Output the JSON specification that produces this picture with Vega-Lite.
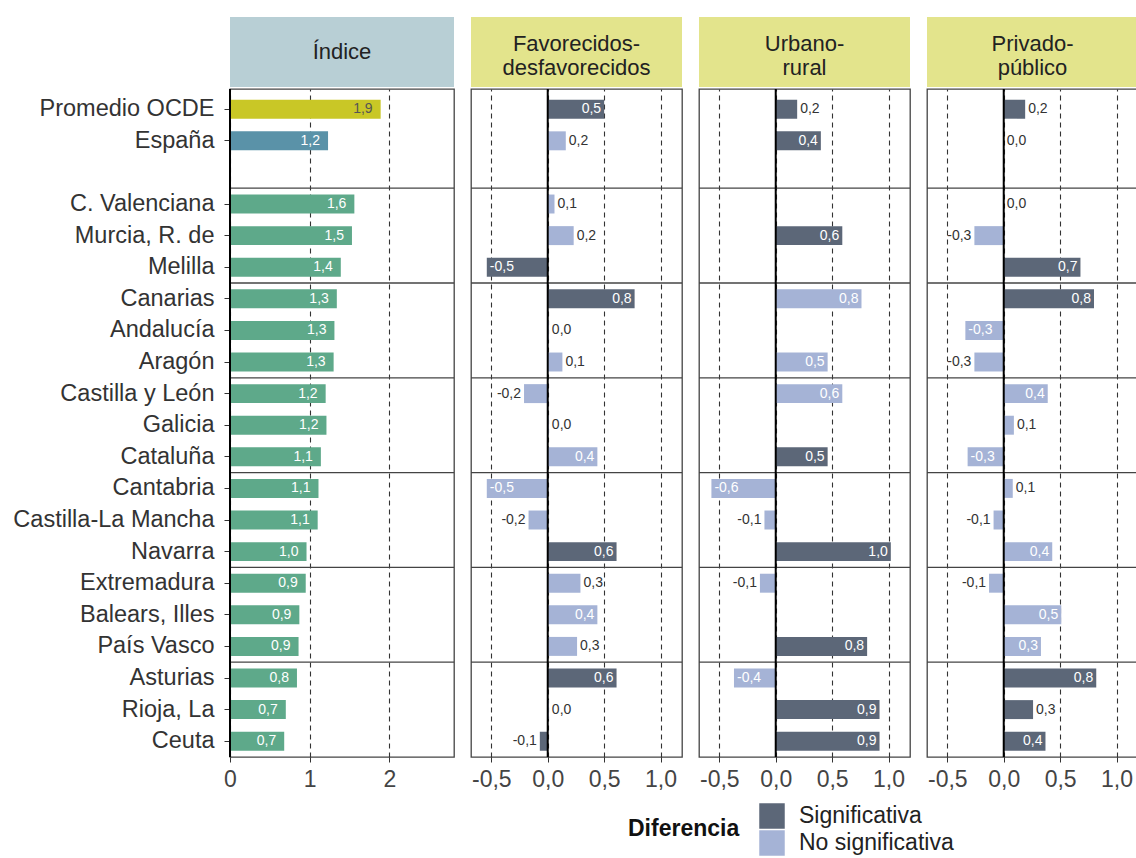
{
  "$schema": "https://vega.github.io/schema/vega-lite/v6.json",
  "padding": {"left": 12, "top": 17, "right": 0, "bottom": 0},
  "spacing": 13,
  "config": {
    "font": "Liberation Sans",
    "locale": {"number": {"decimal": ",", "thousands": ".", "grouping": [3], "currency": ["", " €"], "minus": "-"}},
    "view": {"stroke": "#444", "strokeWidth": 1.3},
    "axis": {"domain": false, "tickColor": "#333", "tickSize": 5, "labelFontSize": 23, "labelColor": "#444", "labelFlush": false, "title": null, "gridColor": "#333", "gridDash": [5, 4], "gridWidth": 1.1, "zindex": 1},
    "text": {"font": "Liberation Sans"}
  },
  "datasets": {
    "idx": [
      {"region": "Promedio OCDE", "grupo": "ocde", "value": 1.89},
      {"region": "España", "grupo": "esp", "value": 1.23},
      {"region": "C. Valenciana", "grupo": "ccaa", "value": 1.56},
      {"region": "Murcia, R. de", "grupo": "ccaa", "value": 1.53},
      {"region": "Melilla", "grupo": "ccaa", "value": 1.39},
      {"region": "Canarias", "grupo": "ccaa", "value": 1.34},
      {"region": "Andalucía", "grupo": "ccaa", "value": 1.31},
      {"region": "Aragón", "grupo": "ccaa", "value": 1.3},
      {"region": "Castilla y León", "grupo": "ccaa", "value": 1.2},
      {"region": "Galicia", "grupo": "ccaa", "value": 1.21},
      {"region": "Cataluña", "grupo": "ccaa", "value": 1.14},
      {"region": "Cantabria", "grupo": "ccaa", "value": 1.11},
      {"region": "Castilla-La Mancha", "grupo": "ccaa", "value": 1.1},
      {"region": "Navarra", "grupo": "ccaa", "value": 0.96},
      {"region": "Extremadura", "grupo": "ccaa", "value": 0.95},
      {"region": "Balears, Illes", "grupo": "ccaa", "value": 0.87},
      {"region": "País Vasco", "grupo": "ccaa", "value": 0.86},
      {"region": "Asturias", "grupo": "ccaa", "value": 0.84},
      {"region": "Rioja, La", "grupo": "ccaa", "value": 0.7},
      {"region": "Ceuta", "grupo": "ccaa", "value": 0.68}
    ],
    "dif": [
      {"panel": "fav", "region": "Promedio OCDE", "value": 0.5, "sig": "Significativa"},
      {"panel": "fav", "region": "España", "value": 0.16, "sig": "No significativa"},
      {"panel": "fav", "region": "C. Valenciana", "value": 0.06, "sig": "No significativa"},
      {"panel": "fav", "region": "Murcia, R. de", "value": 0.23, "sig": "No significativa"},
      {"panel": "fav", "region": "Melilla", "value": -0.54, "sig": "Significativa"},
      {"panel": "fav", "region": "Canarias", "value": 0.77, "sig": "Significativa"},
      {"panel": "fav", "region": "Andalucía", "value": 0.01, "sig": "No significativa"},
      {"panel": "fav", "region": "Aragón", "value": 0.13, "sig": "No significativa"},
      {"panel": "fav", "region": "Castilla y León", "value": -0.21, "sig": "No significativa"},
      {"panel": "fav", "region": "Galicia", "value": 0.01, "sig": "No significativa"},
      {"panel": "fav", "region": "Cataluña", "value": 0.44, "sig": "No significativa"},
      {"panel": "fav", "region": "Cantabria", "value": -0.54, "sig": "No significativa"},
      {"panel": "fav", "region": "Castilla-La Mancha", "value": -0.17, "sig": "No significativa"},
      {"panel": "fav", "region": "Navarra", "value": 0.61, "sig": "Significativa"},
      {"panel": "fav", "region": "Extremadura", "value": 0.29, "sig": "No significativa"},
      {"panel": "fav", "region": "Balears, Illes", "value": 0.44, "sig": "No significativa"},
      {"panel": "fav", "region": "País Vasco", "value": 0.26, "sig": "No significativa"},
      {"panel": "fav", "region": "Asturias", "value": 0.61, "sig": "Significativa"},
      {"panel": "fav", "region": "Rioja, La", "value": 0.01, "sig": "No significativa"},
      {"panel": "fav", "region": "Ceuta", "value": -0.07, "sig": "Significativa"},
      {"panel": "urb", "region": "Promedio OCDE", "value": 0.19, "sig": "Significativa"},
      {"panel": "urb", "region": "España", "value": 0.4, "sig": "Significativa"},
      {"panel": "urb", "region": "Murcia, R. de", "value": 0.59, "sig": "Significativa"},
      {"panel": "urb", "region": "Canarias", "value": 0.76, "sig": "No significativa"},
      {"panel": "urb", "region": "Aragón", "value": 0.46, "sig": "No significativa"},
      {"panel": "urb", "region": "Castilla y León", "value": 0.59, "sig": "No significativa"},
      {"panel": "urb", "region": "Cataluña", "value": 0.46, "sig": "Significativa"},
      {"panel": "urb", "region": "Cantabria", "value": -0.57, "sig": "No significativa"},
      {"panel": "urb", "region": "Castilla-La Mancha", "value": -0.1, "sig": "No significativa"},
      {"panel": "urb", "region": "Navarra", "value": 1.02, "sig": "Significativa"},
      {"panel": "urb", "region": "Extremadura", "value": -0.14, "sig": "No significativa"},
      {"panel": "urb", "region": "País Vasco", "value": 0.81, "sig": "Significativa"},
      {"panel": "urb", "region": "Asturias", "value": -0.37, "sig": "No significativa"},
      {"panel": "urb", "region": "Rioja, La", "value": 0.92, "sig": "Significativa"},
      {"panel": "urb", "region": "Ceuta", "value": 0.92, "sig": "Significativa"},
      {"panel": "priv", "region": "Promedio OCDE", "value": 0.19, "sig": "Significativa"},
      {"panel": "priv", "region": "España", "value": 0.0, "sig": "No significativa"},
      {"panel": "priv", "region": "C. Valenciana", "value": 0.0, "sig": "No significativa"},
      {"panel": "priv", "region": "Murcia, R. de", "value": -0.26, "sig": "No significativa"},
      {"panel": "priv", "region": "Melilla", "value": 0.68, "sig": "Significativa"},
      {"panel": "priv", "region": "Canarias", "value": 0.8, "sig": "Significativa"},
      {"panel": "priv", "region": "Andalucía", "value": -0.34, "sig": "No significativa"},
      {"panel": "priv", "region": "Aragón", "value": -0.26, "sig": "No significativa"},
      {"panel": "priv", "region": "Castilla y León", "value": 0.39, "sig": "No significativa"},
      {"panel": "priv", "region": "Galicia", "value": 0.09, "sig": "No significativa"},
      {"panel": "priv", "region": "Cataluña", "value": -0.32, "sig": "No significativa"},
      {"panel": "priv", "region": "Cantabria", "value": 0.08, "sig": "No significativa"},
      {"panel": "priv", "region": "Castilla-La Mancha", "value": -0.09, "sig": "No significativa"},
      {"panel": "priv", "region": "Navarra", "value": 0.43, "sig": "No significativa"},
      {"panel": "priv", "region": "Extremadura", "value": -0.13, "sig": "No significativa"},
      {"panel": "priv", "region": "Balears, Illes", "value": 0.51, "sig": "No significativa"},
      {"panel": "priv", "region": "País Vasco", "value": 0.33, "sig": "No significativa"},
      {"panel": "priv", "region": "Asturias", "value": 0.82, "sig": "Significativa"},
      {"panel": "priv", "region": "Rioja, La", "value": 0.26, "sig": "Significativa"},
      {"panel": "priv", "region": "Ceuta", "value": 0.37, "sig": "Significativa"}
    ],
    "sep": [
      {"region": "C. Valenciana"}, {"region": "Canarias"}, {"region": "Castilla y León"},
      {"region": "Cantabria"}, {"region": "Extremadura"}, {"region": "Asturias"}
    ],
    "zero": [{"x": 0}]
  },
  "hconcat": [
    {
      "bounds": "flush", "spacing": 2,
      "vconcat": [
        {
          "width": 224, "height": 70,
          "view": {"fill": "#b8cfd5", "stroke": null},
          "data": {"values": [{"titulo": "Índice"}]},
          "mark": {"type": "text", "fontSize": 22, "color": "#222", "baseline": "middle", "align": "center"},
          "encoding": {"text": {"field": "titulo", "type": "nominal"}}
        },
        {
          "width": 224, "height": 668,
          "layer": [
            {
              "data": {"name": "idx"},
              "mark": {"type": "bar", "height": {"band": 0.6}},
              "encoding": {
                "y": {"field": "region", "type": "nominal", "scale": {"domain": ["Promedio OCDE", "España", " ", "C. Valenciana", "Murcia, R. de", "Melilla", "Canarias", "Andalucía", "Aragón", "Castilla y León", "Galicia", "Cataluña", "Cantabria", "Castilla-La Mancha", "Navarra", "Extremadura", "Balears, Illes", "País Vasco", "Asturias", "Rioja, La", "Ceuta"], "paddingInner": 0, "paddingOuter": 0.07, "align": 1},
                  "axis": {"values": ["Promedio OCDE", "España", "C. Valenciana", "Murcia, R. de", "Melilla", "Canarias", "Andalucía", "Aragón", "Castilla y León", "Galicia", "Cataluña", "Cantabria", "Castilla-La Mancha", "Navarra", "Extremadura", "Balears, Illes", "País Vasco", "Asturias", "Rioja, La", "Ceuta"], "labelColor": "#333", "labelFontSize": 23.5, "labelLimit": 0, "tickSize": 6, "labelPadding": 10, "grid": false}},
                "x": {"field": "value", "type": "quantitative", "scale": {"domain": [0, 2.81], "nice": false, "zero": false}, "axis": {"values": [0, 1, 2], "format": "d", "grid": true, "labelPadding": 6, "labelFlush": false}},
                "fill": {"field": "grupo", "type": "nominal", "scale": {"domain": ["ocde", "esp", "ccaa"], "range": ["#c9c726", "#5a92a8", "#5ea98a"]}, "legend": null}
              }
            },
            {
              "data": {"name": "idx"},
              "mark": {"type": "text", "align": "right", "baseline": "middle", "dx": -8, "fontSize": 14},
              "encoding": {
                "y": {"field": "region", "type": "nominal"},
                "x": {"field": "value", "type": "quantitative"},
                "text": {"field": "value", "type": "quantitative", "format": ".1f"},
                "fill": {"condition": {"test": "datum.grupo === 'ocde'", "value": "#555"}, "value": "white"}
              }
            },
            {
              "data": {"name": "sep"},
              "mark": {"type": "rule", "color": "#444", "strokeWidth": 1.3},
              "encoding": {"y": {"field": "region", "type": "nominal", "bandPosition": 0}}
            },
            {
              "data": {"name": "zero"},
              "mark": {"type": "rule", "color": "black", "strokeWidth": 2},
              "encoding": {"x": {"field": "x", "type": "quantitative"}}
            }
          ]
        }
      ]
    },
    {
      "bounds": "flush", "spacing": 2,
      "vconcat": [
        {
          "width": 211, "height": 70,
          "view": {"fill": "#e3e48c", "stroke": null},
          "data": {"values": [{"titulo": "Favorecidos-\ndesfavorecidos"}]},
          "mark": {"type": "text", "fontSize": 22, "color": "#222", "baseline": "middle", "align": "center", "lineBreak": "\n", "lineHeight": 24, "dy": -8},
          "encoding": {"text": {"field": "titulo", "type": "nominal"}}
        },
        {
          "width": 211, "height": 668,
          "data": {"name": "dif"},
          "transform": [{"filter": "datum.panel === 'fav'"}],
          "encoding": {
            "y": {"field": "region", "type": "nominal", "scale": {"domain": ["Promedio OCDE", "España", " ", "C. Valenciana", "Murcia, R. de", "Melilla", "Canarias", "Andalucía", "Aragón", "Castilla y León", "Galicia", "Cataluña", "Cantabria", "Castilla-La Mancha", "Navarra", "Extremadura", "Balears, Illes", "País Vasco", "Asturias", "Rioja, La", "Ceuta"], "paddingInner": 0, "paddingOuter": 0.07, "align": 1}, "axis": null}
          },
          "layer": [
            {
              "mark": {"type": "bar", "height": {"band": 0.6}},
              "encoding": {
                "x": {"field": "value", "type": "quantitative", "scale": {"domain": [-0.68, 1.19], "nice": false, "zero": false}, "axis": {"values": [-0.5, 0, 0.5, 1], "format": ".1f", "grid": true, "labelPadding": 6}},
                "color": {"field": "sig", "type": "nominal", "scale": {"domain": ["Significativa", "No significativa"], "range": ["#5c6778", "#a5b3d6"]},
                  "legend": {"title": "Diferencia", "orient": "none", "legendX": 398, "legendY": 786, "direction": "vertical", "titleOrient": "left", "titleFontSize": 23, "titleFontWeight": "bold", "titleColor": "#111", "labelFontSize": 23, "labelColor": "#222", "labelLimit": 0, "symbolType": "square", "symbolSize": 650, "symbolStrokeWidth": 0, "symbolOpacity": 1, "rowPadding": 1, "labelOffset": 14, "titlePadding": 19}}
              }
            },
            {
              "transform": [{"filter": "datum.value >= 0.3"}],
              "mark": {"type": "text", "align": "right", "baseline": "middle", "dx": -3, "fontSize": 14, "color": "white"},
              "encoding": {"x": {"field": "value", "type": "quantitative"}, "text": {"field": "value", "type": "quantitative", "format": ".1f"}}
            },
            {
              "transform": [{"filter": "datum.value >= 0 && datum.value < 0.3"}],
              "mark": {"type": "text", "align": "left", "baseline": "middle", "dx": 3, "fontSize": 14, "color": "#333"},
              "encoding": {"x": {"field": "value", "type": "quantitative"}, "text": {"field": "value", "type": "quantitative", "format": ".1f"}}
            },
            {
              "transform": [{"filter": "datum.value <= -0.3"}],
              "mark": {"type": "text", "align": "left", "baseline": "middle", "dx": 3, "fontSize": 14, "color": "white"},
              "encoding": {"x": {"field": "value", "type": "quantitative"}, "text": {"field": "value", "type": "quantitative", "format": ".1f"}}
            },
            {
              "transform": [{"filter": "datum.value < 0 && datum.value > -0.3"}],
              "mark": {"type": "text", "align": "right", "baseline": "middle", "dx": -3, "fontSize": 14, "color": "#333"},
              "encoding": {"x": {"field": "value", "type": "quantitative"}, "text": {"field": "value", "type": "quantitative", "format": ".1f"}}
            },
            {
              "data": {"name": "sep"},
              "mark": {"type": "rule", "color": "#444", "strokeWidth": 1.3},
              "encoding": {"y": {"field": "region", "type": "nominal", "bandPosition": 0}}
            },
            {
              "data": {"name": "zero"},
              "mark": {"type": "rule", "color": "black", "strokeWidth": 2},
              "encoding": {"x": {"field": "x", "type": "quantitative"}, "y": null}
            }
          ]
        }
      ]
    },
    {
      "bounds": "flush", "spacing": 2,
      "vconcat": [
        {
          "width": 211, "height": 70,
          "view": {"fill": "#e3e48c", "stroke": null},
          "data": {"values": [{"titulo": "Urbano-\nrural"}]},
          "mark": {"type": "text", "fontSize": 22, "color": "#222", "baseline": "middle", "align": "center", "lineBreak": "\n", "lineHeight": 24, "dy": -8},
          "encoding": {"text": {"field": "titulo", "type": "nominal"}}
        },
        {
          "width": 211, "height": 668,
          "data": {"name": "dif"},
          "transform": [{"filter": "datum.panel === 'urb'"}],
          "encoding": {
            "y": {"field": "region", "type": "nominal", "scale": {"domain": ["Promedio OCDE", "España", " ", "C. Valenciana", "Murcia, R. de", "Melilla", "Canarias", "Andalucía", "Aragón", "Castilla y León", "Galicia", "Cataluña", "Cantabria", "Castilla-La Mancha", "Navarra", "Extremadura", "Balears, Illes", "País Vasco", "Asturias", "Rioja, La", "Ceuta"], "paddingInner": 0, "paddingOuter": 0.07, "align": 1}, "axis": null}
          },
          "layer": [
            {
              "mark": {"type": "bar", "height": {"band": 0.6}},
              "encoding": {
                "x": {"field": "value", "type": "quantitative", "scale": {"domain": [-0.68, 1.19], "nice": false, "zero": false}, "axis": {"values": [-0.5, 0, 0.5, 1], "format": ".1f", "grid": true, "labelPadding": 6}},
                "color": {"field": "sig", "type": "nominal", "scale": {"domain": ["Significativa", "No significativa"], "range": ["#5c6778", "#a5b3d6"]}}
              }
            },
            {
              "transform": [{"filter": "datum.value >= 0.3"}],
              "mark": {"type": "text", "align": "right", "baseline": "middle", "dx": -3, "fontSize": 14, "color": "white"},
              "encoding": {"x": {"field": "value", "type": "quantitative"}, "text": {"field": "value", "type": "quantitative", "format": ".1f"}}
            },
            {
              "transform": [{"filter": "datum.value >= 0 && datum.value < 0.3"}],
              "mark": {"type": "text", "align": "left", "baseline": "middle", "dx": 3, "fontSize": 14, "color": "#333"},
              "encoding": {"x": {"field": "value", "type": "quantitative"}, "text": {"field": "value", "type": "quantitative", "format": ".1f"}}
            },
            {
              "transform": [{"filter": "datum.value <= -0.3"}],
              "mark": {"type": "text", "align": "left", "baseline": "middle", "dx": 3, "fontSize": 14, "color": "white"},
              "encoding": {"x": {"field": "value", "type": "quantitative"}, "text": {"field": "value", "type": "quantitative", "format": ".1f"}}
            },
            {
              "transform": [{"filter": "datum.value < 0 && datum.value > -0.3"}],
              "mark": {"type": "text", "align": "right", "baseline": "middle", "dx": -3, "fontSize": 14, "color": "#333"},
              "encoding": {"x": {"field": "value", "type": "quantitative"}, "text": {"field": "value", "type": "quantitative", "format": ".1f"}}
            },
            {
              "data": {"name": "sep"},
              "mark": {"type": "rule", "color": "#444", "strokeWidth": 1.3},
              "encoding": {"y": {"field": "region", "type": "nominal", "bandPosition": 0}}
            },
            {
              "data": {"name": "zero"},
              "mark": {"type": "rule", "color": "black", "strokeWidth": 2},
              "encoding": {"x": {"field": "x", "type": "quantitative"}, "y": null}
            }
          ]
        }
      ]
    },
    {
      "bounds": "flush", "spacing": 2,
      "vconcat": [
        {
          "width": 211, "height": 70,
          "view": {"fill": "#e3e48c", "stroke": null},
          "data": {"values": [{"titulo": "Privado-\npúblico"}]},
          "mark": {"type": "text", "fontSize": 22, "color": "#222", "baseline": "middle", "align": "center", "lineBreak": "\n", "lineHeight": 24, "dy": -8},
          "encoding": {"text": {"field": "titulo", "type": "nominal"}}
        },
        {
          "width": 211, "height": 668,
          "data": {"name": "dif"},
          "transform": [{"filter": "datum.panel === 'priv'"}],
          "encoding": {
            "y": {"field": "region", "type": "nominal", "scale": {"domain": ["Promedio OCDE", "España", " ", "C. Valenciana", "Murcia, R. de", "Melilla", "Canarias", "Andalucía", "Aragón", "Castilla y León", "Galicia", "Cataluña", "Cantabria", "Castilla-La Mancha", "Navarra", "Extremadura", "Balears, Illes", "País Vasco", "Asturias", "Rioja, La", "Ceuta"], "paddingInner": 0, "paddingOuter": 0.07, "align": 1}, "axis": null}
          },
          "layer": [
            {
              "mark": {"type": "bar", "height": {"band": 0.6}},
              "encoding": {
                "x": {"field": "value", "type": "quantitative", "scale": {"domain": [-0.68, 1.19], "nice": false, "zero": false}, "axis": {"values": [-0.5, 0, 0.5, 1], "format": ".1f", "grid": true, "labelPadding": 6}},
                "color": {"field": "sig", "type": "nominal", "scale": {"domain": ["Significativa", "No significativa"], "range": ["#5c6778", "#a5b3d6"]}}
              }
            },
            {
              "transform": [{"filter": "datum.value >= 0.3"}],
              "mark": {"type": "text", "align": "right", "baseline": "middle", "dx": -3, "fontSize": 14, "color": "white"},
              "encoding": {"x": {"field": "value", "type": "quantitative"}, "text": {"field": "value", "type": "quantitative", "format": ".1f"}}
            },
            {
              "transform": [{"filter": "datum.value >= 0 && datum.value < 0.3"}],
              "mark": {"type": "text", "align": "left", "baseline": "middle", "dx": 3, "fontSize": 14, "color": "#333"},
              "encoding": {"x": {"field": "value", "type": "quantitative"}, "text": {"field": "value", "type": "quantitative", "format": ".1f"}}
            },
            {
              "transform": [{"filter": "datum.value <= -0.3"}],
              "mark": {"type": "text", "align": "left", "baseline": "middle", "dx": 3, "fontSize": 14, "color": "white"},
              "encoding": {"x": {"field": "value", "type": "quantitative"}, "text": {"field": "value", "type": "quantitative", "format": ".1f"}}
            },
            {
              "transform": [{"filter": "datum.value < 0 && datum.value > -0.3"}],
              "mark": {"type": "text", "align": "right", "baseline": "middle", "dx": -3, "fontSize": 14, "color": "#333"},
              "encoding": {"x": {"field": "value", "type": "quantitative"}, "text": {"field": "value", "type": "quantitative", "format": ".1f"}}
            },
            {
              "data": {"name": "sep"},
              "mark": {"type": "rule", "color": "#444", "strokeWidth": 1.3},
              "encoding": {"y": {"field": "region", "type": "nominal", "bandPosition": 0}}
            },
            {
              "data": {"name": "zero"},
              "mark": {"type": "rule", "color": "black", "strokeWidth": 2},
              "encoding": {"x": {"field": "x", "type": "quantitative"}, "y": null}
            }
          ]
        }
      ]
    }
  ]
}
